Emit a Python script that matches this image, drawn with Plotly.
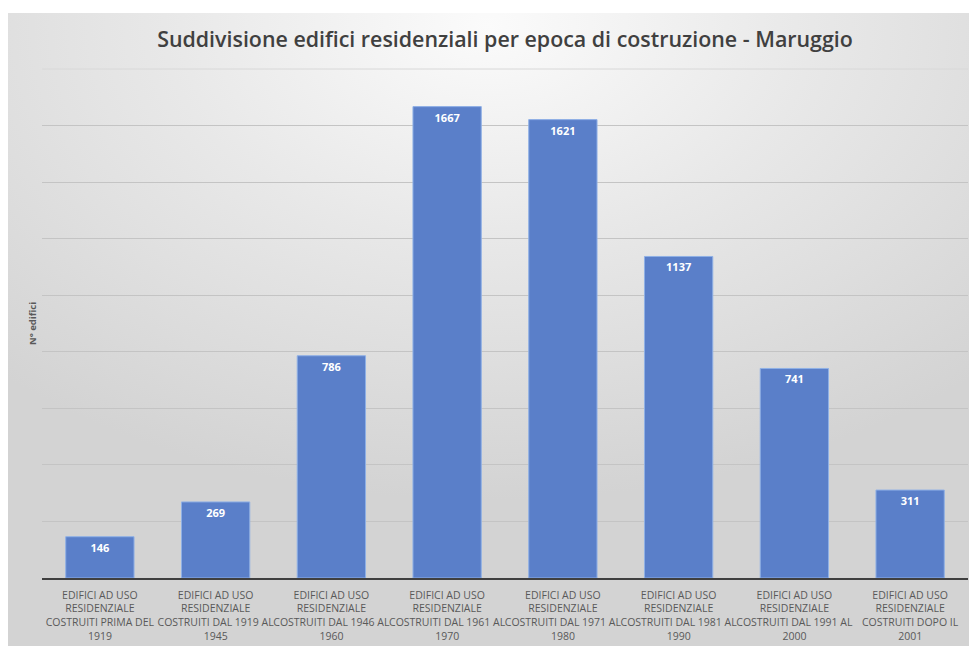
import base64
import plotly.graph_objects as go

categories = [
    "EDIFICI AD USO<br>RESIDENZIALE<br>COSTRUITI PRIMA DEL<br>1919",
    "EDIFICI AD USO<br>RESIDENZIALE<br>COSTRUITI DAL 1919 AL<br>1945",
    "EDIFICI AD USO<br>RESIDENZIALE<br>COSTRUITI DAL 1946 AL<br>1960",
    "EDIFICI AD USO<br>RESIDENZIALE<br>COSTRUITI DAL 1961 AL<br>1970",
    "EDIFICI AD USO<br>RESIDENZIALE<br>COSTRUITI DAL 1971 AL<br>1980",
    "EDIFICI AD USO<br>RESIDENZIALE<br>COSTRUITI DAL 1981 AL<br>1990",
    "EDIFICI AD USO<br>RESIDENZIALE<br>COSTRUITI DAL 1991 AL<br>2000",
    "EDIFICI AD USO<br>RESIDENZIALE<br>COSTRUITI DOPO IL<br>2001",
]
values = [146, 269, 786, 1667, 1621, 1137, 741, 311]

title_text = "Suddivisione edifici residenziali per epoca di costruzione - Maruggio"
y_title = "N° edifici"

FONT = "'Open Sans', sans-serif"

svg = """<svg xmlns='http://www.w3.org/2000/svg' width='961' height='633' viewBox='0 0 961 633' preserveAspectRatio='none'>
<defs><radialGradient id='g' cx='0.5' cy='0.02' r='0.75' gradientUnits='objectBoundingBox'>
<stop offset='0' stop-color='#fbfbfb'/><stop offset='0.45' stop-color='#e8e8e8'/><stop offset='1' stop-color='#d3d3d3'/></radialGradient></defs>
<rect x='0' y='0' width='961' height='633' fill='url(#g)'/></svg>"""
uri = "data:image/svg+xml;base64," + base64.b64encode(svg.encode()).decode()

W, H = 969, 646
L, R, T, B = 42, 1, 69, 68
pw = W - L - R
ph = H - T - B

fig = go.Figure(
    go.Bar(
        x=categories,
        y=values,
        text=[str(v) for v in values],
        textposition="inside",
        insidetextanchor="end",
        textfont=dict(family=FONT, size=11, color="white", weight="bold"),
        marker=dict(color="#5a7fc9", line=dict(color="#8fb0e6", width=1)),
        hoverinfo="skip",
    )
)

fig.update_layout(
    width=W,
    height=H,
    margin=dict(l=L, r=R, t=T, b=B, autoexpand=False),
    paper_bgcolor="white",
    plot_bgcolor="rgba(0,0,0,0)",
    bargap=0.41,
    showlegend=False,
    title=dict(
        text=title_text,
        x=0.5,
        xref="paper",
        xanchor="center",
        y=(H - 40) / H,
        yanchor="middle",
        font=dict(family=FONT, size=21.4, color="#404040", weight=600),
    ),
    images=[
        dict(
            source=uri,
            xref="paper",
            yref="paper",
            x=(8 - L) / pw,
            y=(H - B - 13) / ph,
            sizex=(W - 8) / pw,
            sizey=(H - 13) / ph,
            sizing="stretch",
            xanchor="left",
            yanchor="top",
            layer="below",
        )
    ],
    shapes=[
        dict(type="line", xref="paper", yref="paper", x0=0, x1=1, y0=1, y1=1,
             line=dict(color="#d8d8d8", width=1), layer="below")
    ],
)

fig.update_xaxes(
    showgrid=False,
    showline=True,
    linecolor="#3f3f3f",
    linewidth=2,
    ticks="",
    tickangle=0,
    ticklabelstandoff=6,
    tickfont=dict(family=FONT, size=10.5, color="#595959"),
    automargin=False,
)
fig.update_yaxes(
    range=[0, 1800],
    dtick=200,
    showgrid=True,
    gridcolor="#c4c4c4",
    gridwidth=1,
    zeroline=False,
    showticklabels=False,
    ticks="",
    title=dict(text=y_title, font=dict(family=FONT, size=9.5, color="#595959", weight="bold"), standoff=2),
    automargin=False,
)

fig.write_html("out.html")
